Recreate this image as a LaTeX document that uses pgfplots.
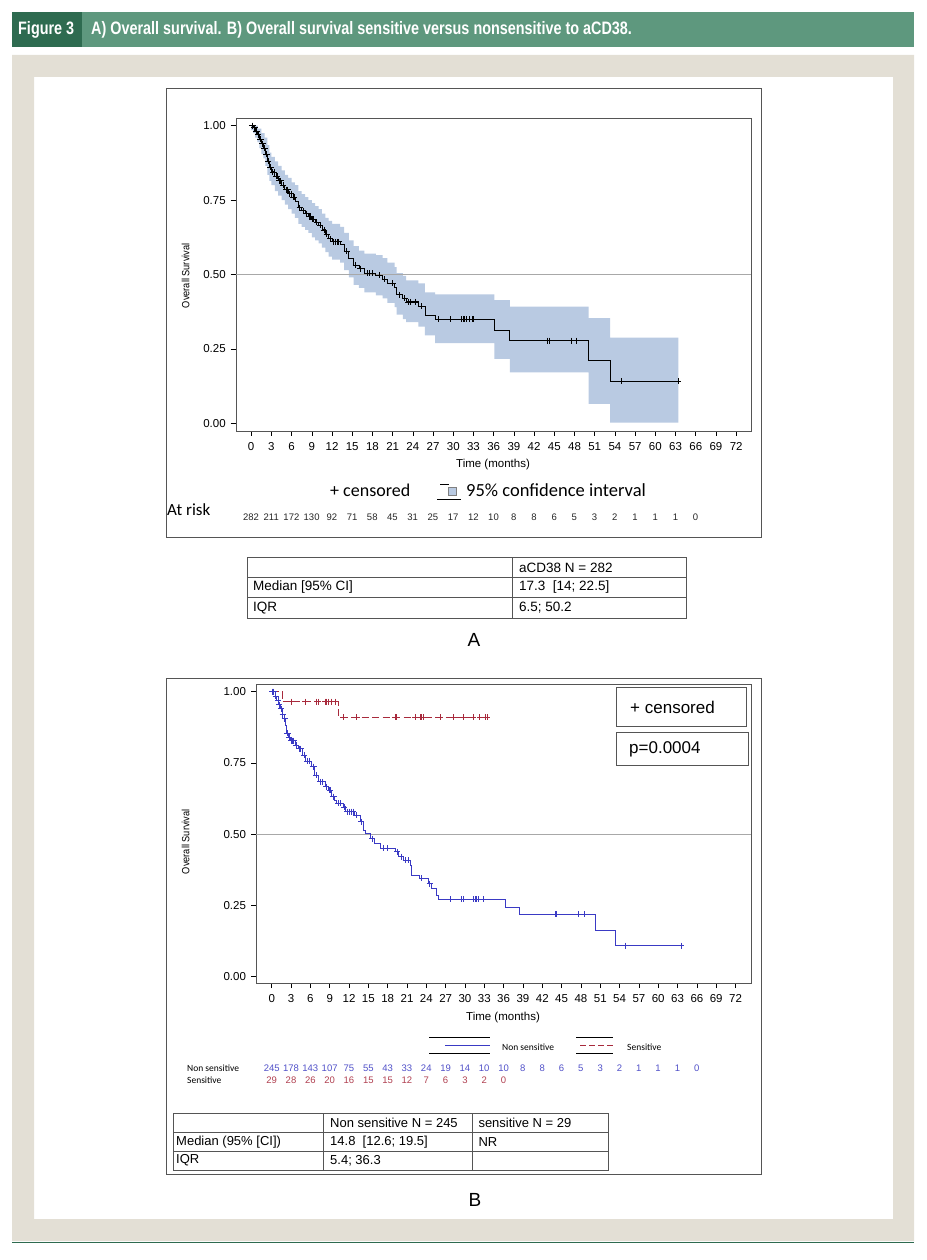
\documentclass[border=0pt]{standalone}
\usepackage{pgfplots}
\pgfplotsset{compat=1.18}
\usepgfplotslibrary{fillbetween}
\usepackage{fontspec}
\setmainfont{Liberation Sans}
\newfontfamily\calfont{Carlito}
\newfontfamily\headfont[FakeStretch=0.80]{Liberation Sans}
\newfontfamily\narrowfont[FakeStretch=0.88]{Liberation Sans}

\definecolor{headdark}{HTML}{2E6B50}
\definecolor{headlight}{HTML}{5E987E}
\definecolor{beige}{HTML}{E3DFD5}
\definecolor{ciblue}{HTML}{B9CAE2}
\definecolor{kmblue}{HTML}{3A3AC4}
\definecolor{kmred}{HTML}{A82A3C}
\definecolor{numblue}{HTML}{5050C8}
\definecolor{numred}{HTML}{B04050}
\definecolor{framegray}{HTML}{555555}
\definecolor{refgray}{HTML}{A8A8A8}

\pgfplotsset{kmaxis/.style={
  scale only axis, anchor=south west,
  tick align=outside, tick pos=left, major tick length=5pt,
  xtick={0,3,...,72}, ytick={0,0.25,0.5,0.75,1},
  /pgf/number format/assume math mode=true,
  yticklabel style={xshift=-1.5pt, /pgf/number format/fixed,
    /pgf/number format/fixed zerofill, /pgf/number format/precision=2},
  xticklabel style={yshift=-3pt},
  tick label style={font=\fontsize{11.5}{13}\selectfont},
  axis line style={framegray},
  every tick/.style={black, line width=0.6pt},
}}

\begin{document}
\begin{tikzpicture}
% page, header and panel frames (1 unit = 1 px of the reference)
\begin{scope}[x=1pt,y=-1pt]
\useasboundingbox (0,0) rectangle (926,1260);
\fill[headlight] (12,12) rectangle (914,47);
\fill[headdark] (12,12) rectangle (82,47);
\node[anchor=west, inner sep=0pt, text=white, font=\headfont\bfseries\fontsize{18}{20}\selectfont] at (18,29.5) {Figure 3};
\node[anchor=west, inner sep=0pt, text=white, font=\headfont\bfseries\fontsize{18}{20}\selectfont] at (91,29.5) {A) Overall survival. B) Overall survival sensitive versus nonsensitive to aCD38.};
\fill[beige, even odd rule] (12,55) rectangle (914,1241) (34,77) rectangle (893,1219);
\draw[headdark, line width=1.5pt] (12,1242.5) -- (914,1242.5);
\draw[framegray, line width=0.9pt] (166.5,88.5) rectangle (761,537);
\draw[framegray, line width=0.9pt] (166.5,678) rectangle (761,1174);
\end{scope}

% ---------------- panel A ----------------
\begin{axis}[kmaxis, at={(235.7pt,-430.7pt)}, width=515.3pt, height=312.4pt,
  xmin=-2.3, xmax=74.2, ymin=-0.025, ymax=1.025]
\addplot[refgray, line width=0.8pt, forget plot] coordinates {(-2.3,0.5) (74.2,0.5)};
\addplot[name path=upA, draw=none, const plot, forget plot] coordinates {
(0,1.000)(1.0,0.990)(1.5,0.975)(2.0,0.960)(2.4,0.935)(2.7,0.910)(3.0,0.895)(3.5,0.880)
(4.0,0.865)(4.5,0.850)(5.0,0.835)(5.5,0.825)(6.0,0.810)(6.5,0.800)(7.0,0.780)(7.5,0.770)
(8.0,0.760)(8.5,0.750)(9.0,0.740)(9.5,0.730)(10.0,0.720)(10.5,0.705)(11.0,0.690)(11.5,0.680)
(12.0,0.670)(13.2,0.660)(13.8,0.640)(14.5,0.615)(15.2,0.595)(16.0,0.580)(16.8,0.570)(18.5,0.565)
(19.5,0.555)(20.2,0.540)(21.3,0.525)(21.6,0.505)(22.5,0.495)(23.0,0.480)(24.8,0.470)(25.8,0.440)
(27.3,0.433)(36.1,0.414)(38.4,0.392)(50.1,0.353)(53.3,0.288)(63.4,0.288)};
\addplot[name path=loA, draw=none, const plot, forget plot] coordinates {
(0,0.985)(0.3,0.975)(0.6,0.960)(0.9,0.945)(1.2,0.925)(1.5,0.905)(1.8,0.890)(2.1,0.865)
(2.4,0.835)(2.7,0.815)(3.0,0.800)(3.5,0.780)(4.0,0.765)(4.5,0.750)(5.0,0.735)(5.5,0.720)
(6.0,0.705)(6.5,0.690)(7.0,0.670)(7.5,0.660)(8.0,0.650)(8.5,0.640)(9.0,0.625)(9.5,0.615)
(10.0,0.605)(10.5,0.590)(11.0,0.575)(11.5,0.560)(12.0,0.550)(13.2,0.540)(13.8,0.515)(14.5,0.490)
(15.2,0.465)(16.0,0.455)(16.8,0.440)(18.5,0.430)(19.5,0.420)(20.2,0.405)(21.3,0.390)(21.6,0.365)
(22.5,0.350)(23.0,0.340)(24.8,0.325)(25.8,0.295)(27.3,0.269)(36.1,0.216)(38.4,0.171)(50.1,0.065)
(53.3,0.002)(63.4,0.002)};
\addplot[ciblue, forget plot] fill between[of=upA and loA];
\addplot[black, line width=0.8pt, const plot] coordinates {
(0,1.000)(0.3,0.993)(0.6,0.982)(0.9,0.970)(1.2,0.955)(1.5,0.940)(1.8,0.925)(2.1,0.905)
(2.4,0.880)(2.7,0.860)(3.0,0.845)(3.5,0.830)(4.0,0.815)(4.5,0.800)(5.0,0.785)(5.5,0.772)
(6.0,0.760)(6.5,0.745)(7.0,0.725)(7.5,0.715)(8.0,0.705)(8.5,0.695)(9.0,0.685)(9.5,0.675)
(10.0,0.665)(10.5,0.650)(11.0,0.635)(11.5,0.620)(12.0,0.610)(13.2,0.600)(13.8,0.578)(14.5,0.555)
(15.2,0.532)(16.0,0.520)(16.8,0.505)(18.5,0.498)(19.5,0.485)(20.2,0.470)(21.3,0.455)(21.6,0.432)
(22.5,0.420)(23.0,0.408)(24.8,0.393)(25.8,0.364)(27.3,0.350)(36.1,0.313)(38.4,0.278)(50.1,0.210)
(53.3,0.142)(63.4,0.142)};
\addplot[only marks, mark=+, mark size=3pt, mark options={black, line width=0.7pt}] coordinates {
(0.1,1.000)(0.2,1.000)(0.4,0.993)(0.5,0.993)(0.7,0.982)(0.8,0.982)(1.0,0.970)(1.3,0.955)
(1.4,0.955)(1.6,0.940)(1.7,0.940)(1.9,0.925)(2.0,0.925)(2.2,0.905)(2.3,0.905)(2.5,0.880)
(2.8,0.860)(2.9,0.860)(3.2,0.845)(3.4,0.845)(3.7,0.830)(3.9,0.830)(4.2,0.815)(4.4,0.815)
(4.7,0.800)(5.2,0.785)(5.4,0.785)(5.7,0.772)(5.9,0.772)(6.2,0.760)(6.4,0.760)(7.2,0.725)
(7.7,0.715)(8.2,0.705)(8.6,0.695)(8.8,0.695)(9.1,0.685)(9.3,0.685)(9.7,0.675)(10.2,0.665)
(10.8,0.650)(11.2,0.635)(11.7,0.620)(12.2,0.610)(12.5,0.610)(12.8,0.610)(13.0,0.610)(14.2,0.578)
(15.5,0.532)(16.2,0.520)(17.2,0.505)(17.6,0.505)(18.0,0.505)(19.0,0.498)(19.8,0.485)(21.0,0.470)
(22.0,0.432)(22.8,0.420)(23.3,0.408)(23.6,0.408)(24.3,0.408)(25.2,0.393)(27.8,0.350)(29.6,0.350)
(31.2,0.350)(31.5,0.350)(31.7,0.350)(31.9,0.350)(32.4,0.350)(32.9,0.350)(33.0,0.350)(44.0,0.278)
(44.2,0.278)(47.6,0.278)(48.2,0.278)(54.9,0.142)(63.4,0.142)};
\end{axis}

% ---------------- panel B ----------------
\begin{axis}[kmaxis, at={(256pt,-983pt)}, width=495pt, height=298.7pt,
  xmin=-2.44, xmax=74.4, ymin=-0.022, ymax=1.026]
\addplot[refgray, line width=0.8pt, forget plot] coordinates {(-2.44,0.5) (74.4,0.5)};
\addplot[kmred, line width=0.8pt, const plot, dash pattern=on 7pt off 3.5pt] coordinates {
(0,1.000)(1.66,0.965)(10.35,0.910)(33.4,0.910)};
\addplot[only marks, mark=+, mark size=3pt, mark options={kmred, solid, line width=0.7pt}] coordinates {
(3.1,0.965)(5.2,0.965)(7.0,0.965)(7.2,0.965)(8.3,0.965)(8.5,0.965)(8.8,0.965)(9.3,0.965)
(9.8,0.965)(11.1,0.910)(13.2,0.910)(19.2,0.910)(19.4,0.910)(22.3,0.910)(23.0,0.910)(23.3,0.910)
(23.5,0.910)(26.1,0.910)(28.2,0.910)(29.8,0.910)(31.3,0.910)(32.3,0.910)(33.1,0.910)(33.4,0.910)};
\addplot[kmblue, line width=0.8pt, const plot] coordinates {
(0,1.000)(0.5,0.985)(0.8,0.970)(1.1,0.955)(1.3,0.940)(1.6,0.920)(1.9,0.905)(2.2,0.883)
(2.3,0.855)(2.6,0.840)(2.9,0.828)(3.6,0.813)(4.1,0.800)(4.7,0.778)(5.2,0.757)(6.2,0.737)
(6.7,0.708)(7.2,0.684)(8.3,0.667)(8.8,0.655)(9.3,0.632)(9.8,0.618)(10.1,0.608)(11.1,0.596)
(11.4,0.579)(12.9,0.567)(13.7,0.544)(14.2,0.515)(14.5,0.503)(15.3,0.485)(16.0,0.468)(16.8,0.450)
(19.2,0.439)(19.7,0.421)(20.4,0.409)(21.5,0.392)(21.7,0.357)(23.0,0.345)(24.3,0.327)(24.8,0.310)
(25.6,0.287)(25.9,0.272)(36.2,0.244)(38.45,0.219)(50.2,0.161)(53.3,0.109)(63.6,0.109)};
\addplot[only marks, mark=+, mark size=3pt, mark options={kmblue, line width=0.7pt}] coordinates {
(0.1,1.000)(0.3,1.000)(0.6,0.985)(1.0,0.970)(1.2,0.955)(1.5,0.940)(1.7,0.920)(2.0,0.905)
(2.4,0.855)(2.5,0.855)(2.7,0.840)(3.0,0.828)(3.2,0.828)(3.4,0.828)(3.8,0.813)(4.3,0.800)
(4.5,0.800)(5.0,0.778)(5.5,0.757)(5.8,0.757)(6.4,0.737)(6.5,0.737)(6.9,0.708)(7.5,0.684)
(7.8,0.684)(8.5,0.667)(9.0,0.655)(9.1,0.655)(9.5,0.632)(9.6,0.632)(10.3,0.608)(10.6,0.608)
(11.2,0.596)(11.7,0.579)(12.0,0.579)(12.3,0.579)(12.6,0.579)(13.1,0.567)(13.9,0.544)(15.6,0.485)
(17.3,0.450)(18.0,0.450)(19.5,0.439)(20.1,0.421)(20.8,0.409)(21.2,0.409)(23.3,0.345)(24.5,0.327)
(27.8,0.272)(29.5,0.272)(29.8,0.272)(31.3,0.272)(31.6,0.272)(31.8,0.272)(32.1,0.272)(32.9,0.272)
(44.0,0.219)(44.2,0.219)(47.6,0.219)(48.5,0.219)(54.9,0.109)(63.6,0.109)};
\end{axis}

% ---------------- labels, legends, risk tables, summary tables ----------------
\begin{scope}[x=1pt,y=-1pt]
% panel A
\node[rotate=90, inner sep=0pt, font=\narrowfont\fontsize{10.5}{12}\selectfont] at (185.7,275.8) {Overall Survival};
\node[inner sep=0pt, font=\fontsize{11.5}{13}\selectfont] at (493,465) {Time (months)};
\node[anchor=west, inner sep=0pt, font=\calfont\fontsize{18}{20}\selectfont] at (330,490) {+ censored};
\draw[black, line width=0.6pt] (440,484) -- (449,484);
\filldraw[fill=ciblue, draw=gray, line width=0.6pt] (448,487) rectangle (456,495);
\draw[black, line width=0.8pt] (437,499.5) -- (461,499.5);
\node[anchor=west, inner sep=0pt, font=\calfont\fontsize{18.5}{20}\selectfont] at (466,490) {95\% confidence interval};
\node[anchor=west, inner sep=0pt, font=\calfont\fontsize{17}{19}\selectfont] at (167,510) {At risk};
\foreach \n [count=\i from 0] in {282,211,172,130,92,71,58,45,31,25,17,12,10,8,8,6,5,3,2,1,1,1,0}
  \node[inner sep=0pt, text=black!85, font=\fontsize{9.5}{10}\selectfont] at ({251+20.21*\i},517) {\n};
% table A
\draw[framegray, line width=0.8pt] (247,557) rectangle (686,618);
\draw[framegray, line width=0.8pt] (247,577) -- (686,577) (247,597.5) -- (686,597.5) (512.5,557) -- (512.5,618);
\begin{scope}[every node/.style={anchor=west, inner sep=0pt, font=\fontsize{13.5}{15}\selectfont}]
\node at (519,567.5) {aCD38 N = 282};
\node at (253,587.5) {Median [95\% CI]};
\node at (519,587.5) {17.3\ \ [14; 22.5]};
\node at (253,608) {IQR};
\node at (519,608) {6.5; 50.2};
\end{scope}
\node[inner sep=0pt, font=\fontsize{19}{21}\selectfont] at (474,640) {A};

% panel B
\node[rotate=90, inner sep=0pt, font=\narrowfont\fontsize{10.5}{12}\selectfont] at (185.7,841.7) {Overall Survival};
\node[inner sep=0pt, font=\fontsize{11.5}{13}\selectfont] at (503,1018) {Time (months)};
\draw[framegray, line width=0.9pt] (616.7,687.7) rectangle (746.7,726);
\node[anchor=west, inner sep=0pt, font=\fontsize{17}{19}\selectfont] at (630,707) {+ censored};
\draw[framegray, line width=0.9pt] (616.7,732.3) rectangle (748.3,765.7);
\node[anchor=west, inner sep=0pt, font=\fontsize{17}{19}\selectfont] at (629,749) {p=0.0004};
% legend of the two groups
\draw[black, line width=0.8pt] (429,1037.3) -- (490,1037.3) (429,1053.3) -- (490,1053.3);
\draw[kmblue, line width=0.8pt] (445,1045.3) -- (490,1045.3);
\node[anchor=west, inner sep=0pt, font=\calfont\fontsize{9.5}{11}\selectfont] at (502,1047) {Non sensitive};
\draw[black, line width=0.8pt] (576,1037.3) -- (613,1037.3) (576,1053.3) -- (613,1053.3);
\draw[kmred, line width=0.8pt, dash pattern=on 6pt off 3pt] (580,1045.3) -- (613,1045.3);
\node[anchor=west, inner sep=0pt, font=\calfont\fontsize{9.5}{11}\selectfont] at (627,1047) {Sensitive};
% numbers at risk
\node[anchor=west, inner sep=0pt, font=\calfont\fontsize{9.5}{11}\selectfont] at (187,1068) {Non sensitive};
\node[anchor=west, inner sep=0pt, font=\calfont\fontsize{9.5}{11}\selectfont] at (187,1080) {Sensitive};
\foreach \n [count=\i from 0] in {245,178,143,107,75,55,43,33,24,19,14,10,10,8,8,6,5,3,2,1,1,1,0}
  \node[inner sep=0pt, text=numblue, font=\fontsize{9.5}{11}\selectfont] at ({271.7+19.32*\i},1068.5) {\n};
\foreach \n [count=\i from 0] in {29,28,26,20,16,15,15,12,7,6,3,2,0}
  \node[inner sep=0pt, text=numred, font=\fontsize{9.5}{11}\selectfont] at ({271.7+19.32*\i},1080.5) {\n};
% table B
\draw[framegray, line width=0.8pt] (173,1113) rectangle (608.3,1170);
\draw[framegray, line width=0.8pt] (173,1132.5) -- (608.3,1132.5) (173,1151) -- (608.3,1151)
  (323.3,1113) -- (323.3,1170) (472.3,1113) -- (472.3,1170);
\begin{scope}[every node/.style={anchor=west, inner sep=0pt, font=\fontsize{13}{15}\selectfont}]
\node at (330,1123) {Non sensitive N = 245};
\node at (478.3,1123) {sensitive N = 29};
\node at (176,1142) {Median (95\% [CI])};
\node at (330,1142) {14.8\ \ [12.6; 19.5]};
\node at (478.3,1142) {NR};
\node at (176,1160.5) {IQR};
\node at (330,1160.5) {5.4; 36.3};
\end{scope}
\node[inner sep=0pt, font=\fontsize{19}{21}\selectfont] at (475,1200) {B};
\end{scope}
\end{tikzpicture}
\end{document}
